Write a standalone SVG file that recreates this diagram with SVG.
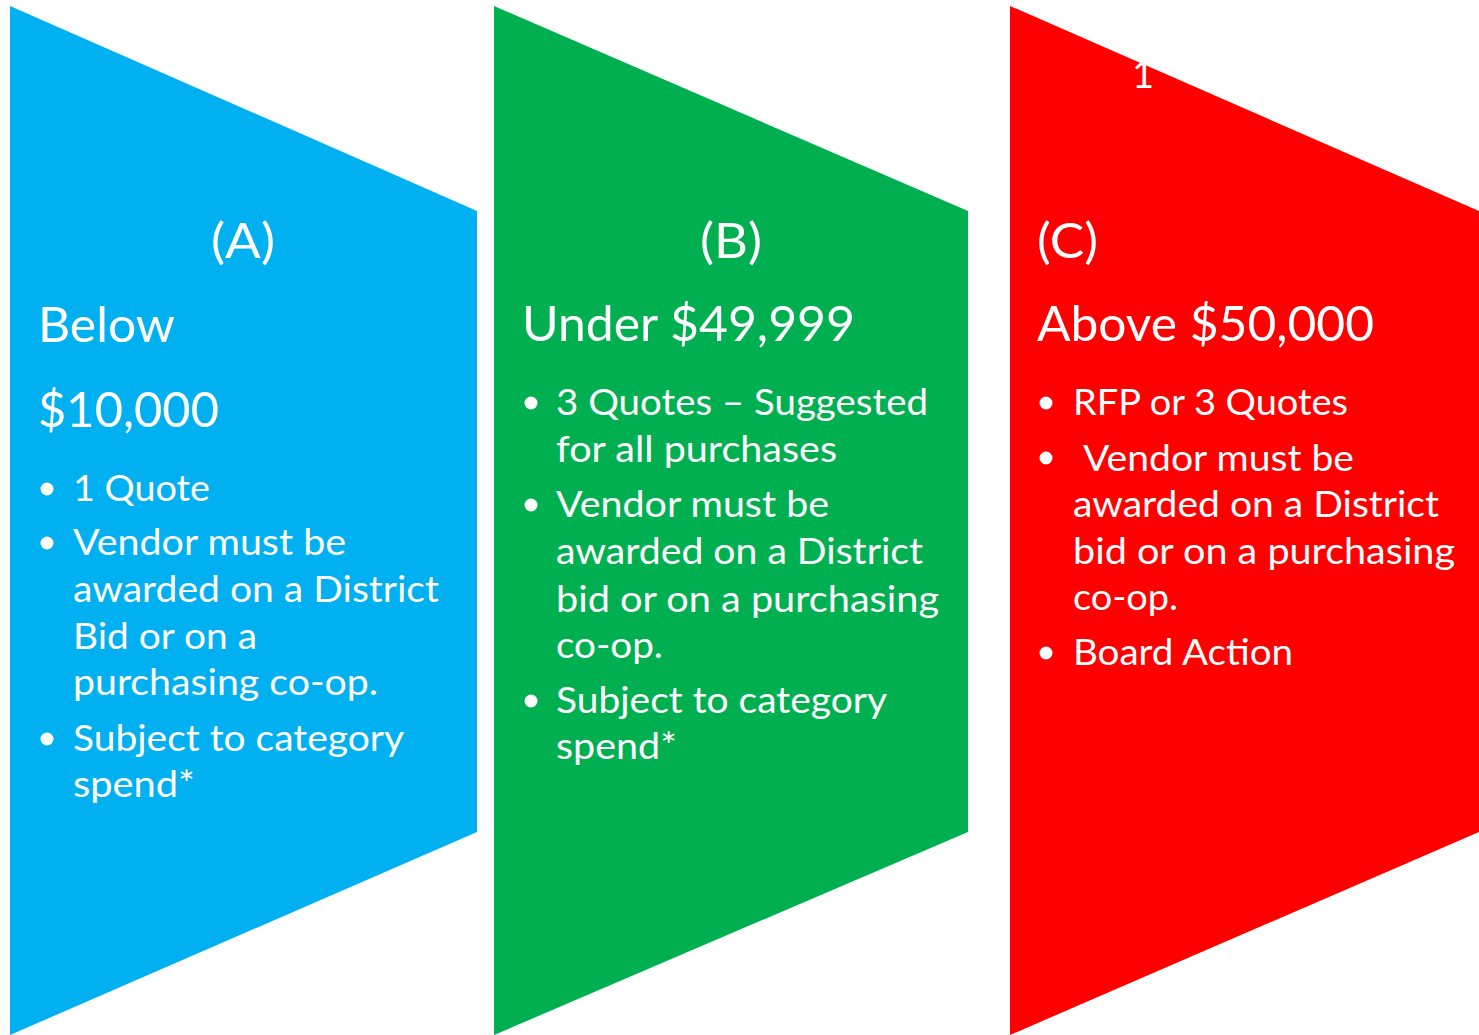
<svg xmlns="http://www.w3.org/2000/svg" width="1479" height="1035" viewBox="0 0 1479 1035">
<style>
text{font-family:Lato,"Open Sans","Liberation Sans",sans-serif;fill:#fff}
.t{font-size:49px}
.b{font-size:36px}
.dot{fill:#fff}
</style>
<rect width="1479" height="1035" fill="#fff"/>
<g id="nodeA">
<polygon points="10,6 477,211 477,832 10,1035" fill="#00B0F0"/>
<text class="t" x="211" y="258" textLength="64" lengthAdjust="spacingAndGlyphs">(A)</text>
<text class="t" x="38" y="342" textLength="137" lengthAdjust="spacingAndGlyphs">Below</text>
<text class="t" x="38" y="427" textLength="181" lengthAdjust="spacingAndGlyphs">$10,000</text>
<circle class="dot" cx="47" cy="489" r="6.5"/>
<text class="b" x="73" y="501" textLength="137" lengthAdjust="spacingAndGlyphs">1 Quote</text>
<circle class="dot" cx="47" cy="543" r="6.5"/>
<text class="b" x="73" y="555" textLength="273" lengthAdjust="spacingAndGlyphs">Vendor must be</text>
<text class="b" x="73" y="602" textLength="366" lengthAdjust="spacingAndGlyphs">awarded on a District</text>
<text class="b" x="73" y="649" textLength="184" lengthAdjust="spacingAndGlyphs">Bid or on a</text>
<text class="b" x="73" y="695" textLength="305" lengthAdjust="spacingAndGlyphs">purchasing co-op.</text>
<circle class="dot" cx="47" cy="739" r="6.5"/>
<text class="b" x="73" y="751" textLength="331" lengthAdjust="spacingAndGlyphs">Subject to category</text>
<text class="b" x="73" y="797" textLength="122" lengthAdjust="spacingAndGlyphs">spend*</text>
</g>
<g id="nodeB">
<polygon points="494,6 968,211 968,832 494,1035" fill="#00B050"/>
<text class="t" x="700" y="258" textLength="62" lengthAdjust="spacingAndGlyphs">(B)</text>
<text class="t" x="522" y="341" textLength="333" lengthAdjust="spacingAndGlyphs">Under $49,999</text>
<circle class="dot" cx="531" cy="403" r="6.5"/>
<text class="b" x="556" y="415" textLength="372" lengthAdjust="spacingAndGlyphs">3 Quotes – Suggested</text>
<text class="b" x="556" y="462" textLength="281" lengthAdjust="spacingAndGlyphs">for all purchases</text>
<circle class="dot" cx="531" cy="505" r="6.5"/>
<text class="b" x="556" y="517" textLength="273" lengthAdjust="spacingAndGlyphs">Vendor must be</text>
<text class="b" x="556" y="564" textLength="367" lengthAdjust="spacingAndGlyphs">awarded on a District</text>
<text class="b" x="556" y="612" textLength="383" lengthAdjust="spacingAndGlyphs">bid or on a purchasing</text>
<text class="b" x="556" y="658" textLength="107" lengthAdjust="spacingAndGlyphs">co-op.</text>
<circle class="dot" cx="531" cy="701" r="6.5"/>
<text class="b" x="556" y="713" textLength="331" lengthAdjust="spacingAndGlyphs">Subject to category</text>
<text class="b" x="556" y="759" textLength="121" lengthAdjust="spacingAndGlyphs">spend*</text>
</g>
<g id="nodeC">
<polygon points="1010,6 1479,211 1479,832 1010,1035" fill="#FF0000"/>
<text class="b" x="1132" y="88" style="font-size:38px">1</text>
<text class="t" x="1037" y="258" textLength="61" lengthAdjust="spacingAndGlyphs">(C)</text>
<text class="t" x="1037" y="341" textLength="337" lengthAdjust="spacingAndGlyphs">Above $50,000</text>
<circle class="dot" cx="1046" cy="403" r="6.5"/>
<text class="b" x="1073" y="415" textLength="275" lengthAdjust="spacingAndGlyphs">RFP or 3 Quotes</text>
<circle class="dot" cx="1046" cy="458" r="6.5"/>
<text class="b" x="1083" y="471" textLength="271" lengthAdjust="spacingAndGlyphs">Vendor must be</text>
<text class="b" x="1073" y="517" textLength="366" lengthAdjust="spacingAndGlyphs">awarded on a District</text>
<text class="b" x="1073" y="564" textLength="382" lengthAdjust="spacingAndGlyphs">bid or on a purchasing</text>
<text class="b" x="1073" y="610" textLength="105" lengthAdjust="spacingAndGlyphs">co-op.</text>
<circle class="dot" cx="1046" cy="653" r="6.5"/>
<text class="b" x="1073" y="665" textLength="220" lengthAdjust="spacingAndGlyphs">Board Action</text>
</g>
<g id="connectors"/>
</svg>
